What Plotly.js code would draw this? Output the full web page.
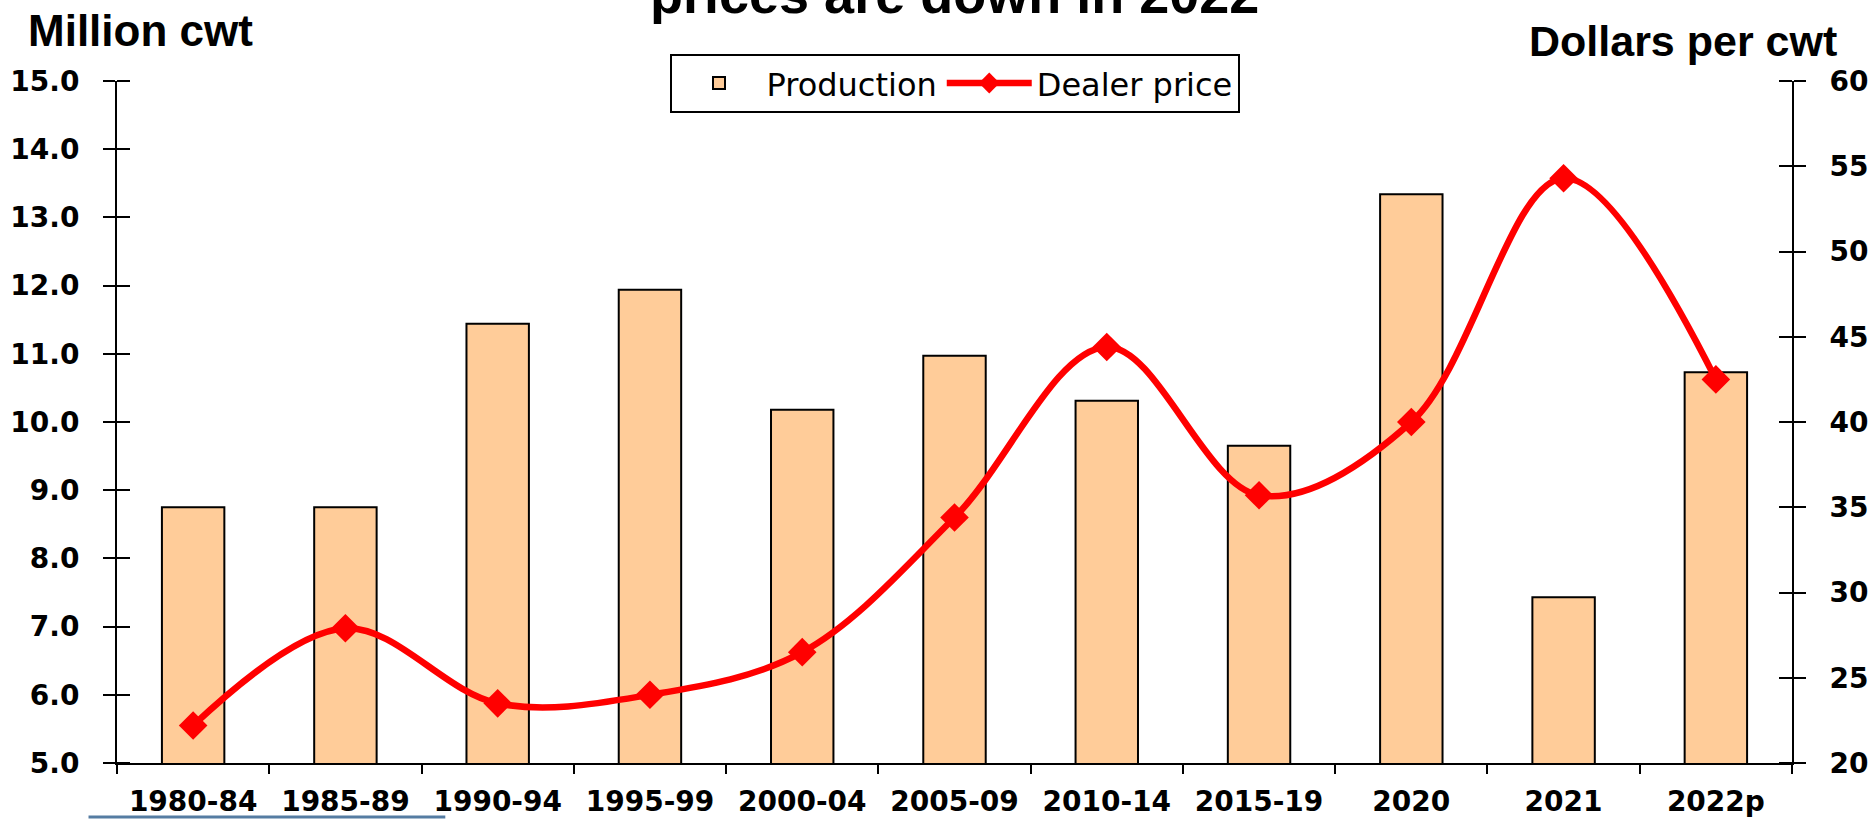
<!DOCTYPE html>
<html>
<head>
<meta charset="utf-8">
<script src="https://cdn.plot.ly/plotly-3.0.1.min.js"></script>
<style>
  html, body { margin: 0; padding: 0; background: #ffffff; }
  #chart { width: 1871px; height: 819px; }
</style>
</head>
<body>
<div id="chart"></div>
<script>
// ---- Data ----
const categories = ["1980-84", "1985-89", "1990-94", "1995-99", "2000-04", "2005-09", "2010-14", "2015-19", "2020", "2021", "2022p"];
const production = [8.75, 8.75, 11.44, 11.94, 10.18, 10.97, 10.31, 9.65, 13.34, 7.43, 10.73];   // Million cwt
const dealerPrice = [22.2, 27.9, 23.5, 24.0, 26.5, 34.4, 44.4, 35.7, 40.0, 54.3, 42.5];          // Dollars per cwt

const leftRange = [5, 15];
const rightRange = [20, 60];
const titleText = "prices are down in 2022";
const leftTitle = "Million cwt";
const rightTitle = "Dollars per cwt";

const tickFont = { family: "DejaVu Sans", size: 28, color: "#000000", weight: "bold" };
const n = categories.length;

const traces = [
  {
    type: "bar",
    name: "Production",
    x: categories,
    y: production,
    yaxis: "y",
    width: 0.41,
    marker: { color: "#FFCC99", line: { color: "#000000", width: 2 } },
    hoverinfo: "x+y"
  },
  {
    type: "scatter",
    mode: "lines+markers",
    name: "Dealer price",
    x: categories,
    y: dealerPrice,
    yaxis: "y2",
    line: { color: "#FF0000", width: 6.5, shape: "spline", smoothing: 1 },
    marker: { symbol: "diamond", size: 22, color: "#FF0000" }
  }
];

// minor ticks drawn inside at the same places as the outside major ticks -> crossing tick marks
const innerTicks = (len, dtick, tick0) => ({
  ticks: "inside", ticklen: len, tickwidth: 2, tickcolor: "#000000",
  dtick: dtick, tick0: tick0, showgrid: false
});

const layout = {
  width: 1871,
  height: 819,
  paper_bgcolor: "#ffffff",
  plot_bgcolor: "#ffffff",
  margin: { l: 117, r: 79, t: 81, b: 56, pad: 0 },
  showlegend: true,
  legend: {
    orientation: "h",
    x: 0.5, xanchor: "center",
    y: 1.04, yanchor: "top",
    bordercolor: "#000000", borderwidth: 2,
    bgcolor: "#ffffff",
    font: { family: "DejaVu Sans", size: 32, color: "#000000" },
    itemwidth: 85,
    traceorder: "normal"
  },
  xaxis: {
    type: "category",
    showline: true, linecolor: "#000000", linewidth: 2,
    ticks: "outside", ticklen: 9, tickwidth: 2, tickcolor: "#000000",
    tickson: "boundaries",
    ticklabelstandoff: 12,
    showgrid: false, zeroline: false,
    tickfont: tickFont,
    range: [-0.5, n - 0.5],
    fixedrange: true
  },
  yaxis: {
    range: leftRange, dtick: 1, tick0: 5, tickformat: ".1f",
    showline: true, linecolor: "#000000", linewidth: 2,
    ticks: "outside", ticklen: 12, tickwidth: 2, tickcolor: "#000000",
    minor: innerTicks(13, 1, 5),
    ticklabelstandoff: 18,
    showgrid: false, zeroline: false,
    tickfont: tickFont,
    fixedrange: true
  },
  yaxis2: {
    range: rightRange, dtick: 5, tick0: 20,
    overlaying: "y", side: "right", anchor: "x",
    showline: true, linecolor: "#000000", linewidth: 2,
    ticks: "outside", ticklen: 12, tickwidth: 2, tickcolor: "#000000",
    minor: innerTicks(13, 5, 20),
    ticklabelstandoff: 18,
    showgrid: false, zeroline: false,
    tickfont: tickFont,
    fixedrange: true
  },
  annotations: [
    {
      text: titleText, xref: "paper", yref: "paper",
      x: 0.5, xanchor: "center", y: 1.08, yanchor: "bottom",
      showarrow: false,
      font: { family: "Liberation Sans", size: 54, color: "#000000", weight: "bold" }
    },
    {
      text: leftTitle, xref: "paper", yref: "paper",
      x: -0.0545, xanchor: "left", y: 1.035, yanchor: "bottom",
      showarrow: false,
      font: { family: "Liberation Sans", size: 44, color: "#000000", weight: "bold" }
    },
    {
      text: rightTitle, xref: "paper", yref: "paper",
      x: 1.028, xanchor: "right", y: 1.02, yanchor: "bottom",
      showarrow: false,
      font: { family: "Liberation Sans", size: 43, color: "#000000", weight: "bold" }
    }
  ],
  shapes: [
    {
      type: "line", xref: "paper", yref: "paper",
      x0: -0.017, x1: 0.196, y0: -0.079, y1: -0.079,
      line: { color: "#2B5C8C", width: 3 }, opacity: 0.8
    }
  ]
};

Plotly.newPlot("chart", traces, layout, { displayModeBar: false, staticPlot: true });
</script>
</body>
</html>
